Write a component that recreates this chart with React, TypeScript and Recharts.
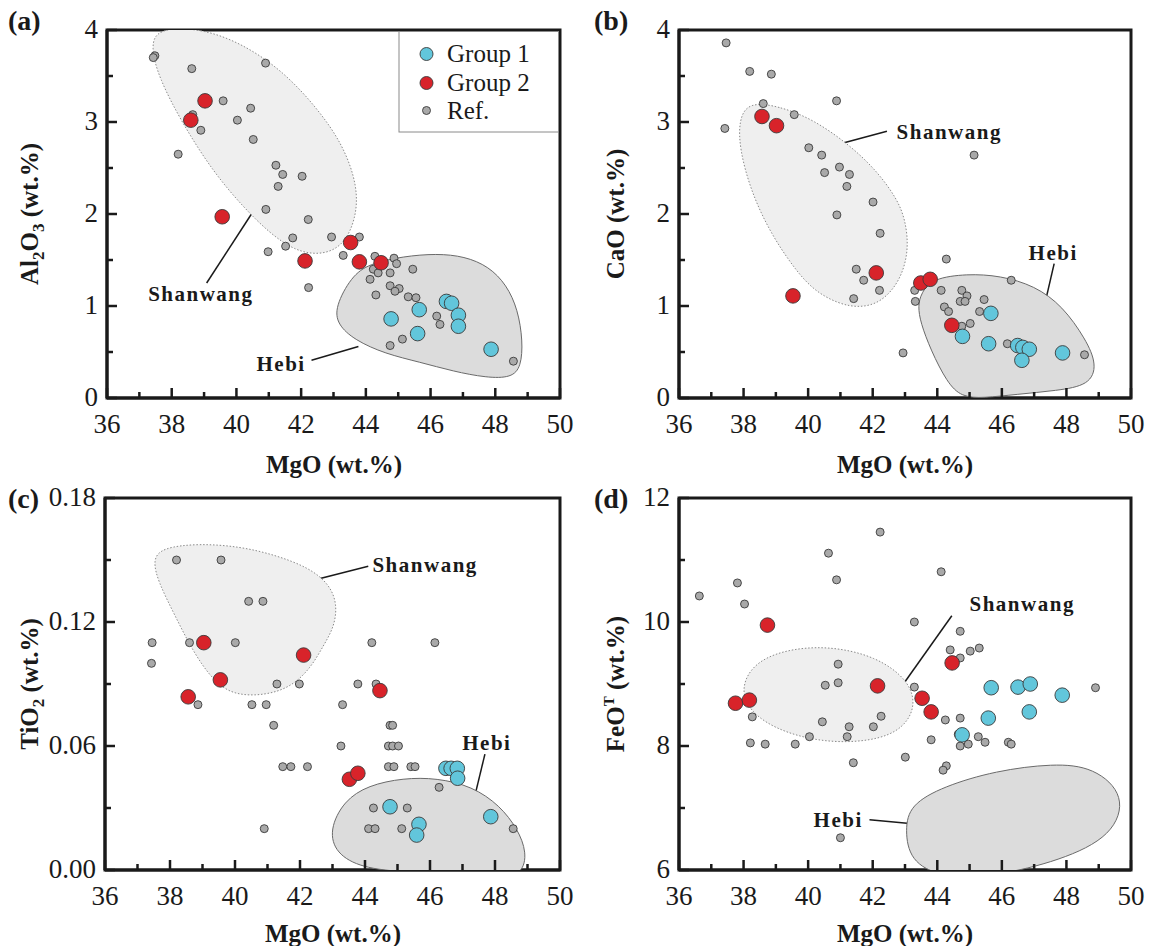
import React from "react";
import {
  ScatterChart,
  Scatter,
  XAxis,
  YAxis,
  ReferenceArea,
  ReferenceLine,
} from "recharts";

type Pair = [number, number];
type Note = { x: number; y: number; text: string };

const SERIF = '"Liberation Serif", "Times New Roman", Times, serif';
const INK = "#1a1a1a";
const CYAN = "#62c6db";
const RED = "#d8232a";
const GREY = "#a9a9a9";

// axes
const xTicks = [36, 37, 38, 39, 40, 41, 42, 43, 44, 45, 46, 47, 48, 49, 50];
const xTickLabels = ["36", "", "38", "", "40", "", "42", "", "44", "", "46", "", "48", "", "50"];
const yTicksAB = [0, 0.5, 1, 1.5, 2, 2.5, 3, 3.5, 4];
const yLabelsAB = ["0", "", "1", "", "2", "", "3", "", "4"];
const yTicksC = [0, 0.03, 0.06, 0.09, 0.12, 0.15, 0.18];
const yLabelsC = ["0.00", "", "0.06", "", "0.12", "", "0.18"];
const yTicksD = [6, 7, 8, 9, 10, 11, 12];
const yLabelsD = ["6", "", "8", "", "10", "", "12"];

// (a) Al2O3 vs MgO
const refA: Pair[] = [
  [37.48, 3.72], [37.43, 3.7], [38.62, 3.58], [40.9, 3.64], [39.59, 3.23], [40.44, 3.15],
  [40.03, 3.02], [38.9, 2.91], [38.65, 3.08], [40.52, 2.81], [38.2, 2.65], [41.22, 2.53],
  [41.43, 2.43], [42.03, 2.41], [41.29, 2.3], [40.91, 2.05], [42.22, 1.94], [40.98, 1.59],
  [41.52, 1.65], [41.74, 1.74], [42.94, 1.75], [42.23, 1.2], [43.8, 1.75], [43.3, 1.55],
  [44.28, 1.54], [44.87, 1.52], [44.95, 1.46], [44.23, 1.4], [44.38, 1.36], [44.75, 1.36],
  [44.13, 1.29], [45.45, 1.4], [44.75, 1.22], [45.03, 1.19], [44.9, 1.16], [45.31, 1.1],
  [45.55, 1.09], [44.31, 1.12], [46.19, 0.89], [46.29, 0.8], [45.13, 0.64], [44.75, 0.57],
  [48.56, 0.4],
];
const g2A: Pair[] = [[38.59, 3.02], [39.03, 3.23], [39.56, 1.97], [42.12, 1.49], [43.53, 1.69], [43.8, 1.48], [44.47, 1.47]];
const g1A: Pair[] = [[44.78, 0.86], [45.65, 0.96], [45.6, 0.7], [46.49, 1.05], [46.65, 1.03], [46.86, 0.9], [46.86, 0.78], [47.87, 0.53]];
const shanwangA: Pair[] = [
  [37.55, 4.02], [38.9, 4.02], [40.2, 3.85], [41.45, 3.55], [42.5, 3.15], [43.3, 2.75],
  [43.75, 2.3], [43.7, 1.95], [43.3, 1.65], [42.6, 1.55], [41.8, 1.6], [41.0, 1.8],
  [40.2, 2.08], [39.3, 2.45], [38.35, 2.97], [37.6, 3.48], [37.35, 3.82],
];
const hebiA: Pair[] = [
  [43.05, 0.99], [43.55, 1.32], [44.1, 1.46], [45.16, 1.54], [46.19, 1.57], [47.05, 1.54],
  [47.8, 1.43], [48.35, 1.23], [48.7, 0.96], [48.85, 0.62], [48.8, 0.34], [48.5, 0.22],
  [47.73, 0.22], [46.7, 0.29], [45.67, 0.39], [44.6, 0.48], [43.65, 0.63], [43.12, 0.8],
];
const notesA: Note[] = [{ x: 38.9, y: 1.13, text: "Shanwang" }, { x: 41.38, y: 0.37, text: "Hebi" }];
const leadersA: [Pair, Pair][] = [[[39.08, 1.25], [40.52, 2.03]], [[42.32, 0.41], [43.77, 0.56]]];

// (b) CaO vs MgO
const refB: Pair[] = [
  [37.46, 3.86], [38.19, 3.55], [38.86, 3.52], [38.61, 3.2], [37.42, 2.93], [39.57, 3.08],
  [40.88, 3.23], [40.02, 2.72], [40.42, 2.64], [40.97, 2.51], [41.28, 2.43], [40.51, 2.45],
  [41.2, 2.3], [42.01, 2.13], [40.89, 1.99], [42.23, 1.79], [41.49, 1.4], [41.72, 1.28],
  [42.21, 1.17], [41.41, 1.08], [42.94, 0.49], [45.14, 2.64], [44.28, 1.51], [43.3, 1.17],
  [43.32, 1.05], [44.12, 1.17], [44.76, 1.17], [44.92, 1.11], [44.71, 1.05], [44.86, 1.05],
  [44.22, 0.99], [44.35, 0.94], [45.45, 1.07], [45.31, 0.94], [45.02, 0.81], [44.76, 0.78],
  [46.29, 1.28], [46.17, 0.59], [48.56, 0.47],
];
const g2B: Pair[] = [[38.57, 3.06], [39.02, 2.96], [39.53, 1.11], [42.11, 1.36], [43.49, 1.25], [43.78, 1.29], [44.45, 0.79]];
const g1B: Pair[] = [[45.66, 0.92], [44.78, 0.67], [45.59, 0.59], [46.49, 0.57], [46.65, 0.55], [46.85, 0.53], [46.62, 0.41], [47.88, 0.49]];
const shanwangB: Pair[] = [
  [38.15, 3.22], [39.14, 3.17], [40.2, 3.02], [41.28, 2.75], [42.1, 2.48], [42.75, 2.17],
  [43.02, 1.93], [43.12, 1.6], [42.85, 1.27], [42.27, 1.04], [41.62, 0.98], [40.95, 1.02],
  [40.1, 1.18], [39.38, 1.5], [38.75, 1.85], [38.22, 2.26], [37.88, 2.7], [37.85, 3.02],
];
const hebiB: Pair[] = [
  [43.5, 1.14], [43.85, 1.3], [44.92, 1.35], [45.95, 1.33], [47.02, 1.22], [47.88, 1.0],
  [48.6, 0.64], [48.95, 0.36], [48.72, 0.14], [47.7, 0.08], [46.46, 0.04], [45.43, 0.0],
  [44.75, 0.01], [44.3, 0.17], [43.8, 0.52], [43.48, 0.82], [43.4, 1.0],
];
const notesB: Note[] = [{ x: 44.37, y: 2.9, text: "Shanwang" }, { x: 47.59, y: 1.58, text: "Hebi" }];
const leadersB: [Pair, Pair][] = [[[42.44, 2.9], [40.97, 2.76]], [[47.62, 1.46], [47.29, 0.96]]];

// (c) TiO2 vs MgO
const refC: Pair[] = [
  [38.2, 0.15], [39.57, 0.15], [40.42, 0.13], [40.86, 0.13], [37.45, 0.11], [38.6, 0.11],
  [40.01, 0.11], [37.43, 0.1], [41.29, 0.09], [41.98, 0.09], [44.21, 0.11], [46.15, 0.11],
  [43.78, 0.09], [44.34, 0.09], [38.86, 0.08], [40.52, 0.08], [40.96, 0.08], [41.19, 0.07],
  [41.47, 0.05], [41.72, 0.05], [42.23, 0.05], [40.9, 0.02], [43.31, 0.08], [43.26, 0.06],
  [44.77, 0.07], [44.85, 0.07], [44.72, 0.06], [44.85, 0.06], [45.03, 0.06], [44.72, 0.05],
  [44.89, 0.05], [45.41, 0.05], [45.54, 0.05], [46.28, 0.04], [44.26, 0.03], [45.3, 0.03],
  [44.11, 0.02], [44.31, 0.02], [45.13, 0.02], [48.56, 0.02],
];
const g2C: Pair[] = [[38.56, 0.0838], [39.04, 0.11], [39.55, 0.092], [42.11, 0.104], [43.52, 0.0439], [43.78, 0.0468], [44.46, 0.0868]];
const g1C: Pair[] = [[46.49, 0.0492], [46.65, 0.0492], [46.84, 0.0492], [46.85, 0.0444], [44.77, 0.0306], [45.66, 0.0221], [45.59, 0.0169], [47.87, 0.0258]];
const shanwangC: Pair[] = [
  [37.75, 0.156], [38.9, 0.158], [40.16, 0.1565], [41.22, 0.1525], [42.25, 0.1465], [42.9, 0.1385],
  [43.15, 0.1285], [43.05, 0.1175], [42.72, 0.1085], [42.32, 0.0975], [41.72, 0.0885], [40.93, 0.0845],
  [39.95, 0.0845], [39.3, 0.092], [38.68, 0.1065], [38.14, 0.1235], [37.65, 0.139], [37.46, 0.15],
];
const hebiC: Pair[] = [
  [42.9, 0.0194], [43.35, 0.0335], [44.1, 0.041], [45.18, 0.0445], [46.21, 0.0445], [47.3, 0.0405],
  [48.15, 0.0312], [48.7, 0.0198], [48.98, 0.0085], [48.85, -0.002], [48.15, -0.003], [46.72, -0.002],
  [45.18, -0.001], [43.9, 0.001], [43.1, 0.008],
];
const notesC: Note[] = [{ x: 45.85, y: 0.1476, text: "Shanwang" }, { x: 47.75, y: 0.0617, text: "Hebi" }];
const leadersC: [Pair, Pair][] = [[[44.1, 0.147], [42.62, 0.141]], [[47.69, 0.0561], [47.35, 0.0339]]];

// (d) FeOT vs MgO
const refD: Pair[] = [
  [36.63, 10.42], [37.81, 10.63], [38.03, 10.29], [38.27, 8.47], [38.21, 8.05], [38.67, 8.03],
  [39.6, 8.03], [40.04, 8.15], [40.44, 8.39], [40.53, 8.98], [40.93, 9.02], [40.93, 9.32],
  [41.21, 8.15], [41.27, 8.31], [41.4, 7.73], [41.0, 6.52], [40.63, 11.11], [40.88, 10.68],
  [42.23, 11.45], [42.26, 8.48], [42.02, 8.31], [43.01, 7.82], [43.29, 10.0], [43.29, 8.95],
  [43.81, 8.1], [44.12, 10.81], [44.25, 8.42], [44.28, 7.68], [44.18, 7.61], [44.4, 9.55],
  [44.71, 9.42], [44.71, 9.85], [45.02, 9.53], [45.3, 9.58], [44.71, 8.45], [44.65, 8.19],
  [44.71, 8.0], [44.96, 8.03], [45.27, 8.15], [45.48, 8.06], [46.2, 8.06], [46.29, 8.03],
  [48.9, 8.94],
];
const g2D: Pair[] = [[37.75, 8.69], [38.18, 8.74], [38.74, 9.95], [42.15, 8.97], [43.53, 8.77], [43.81, 8.55], [44.46, 9.34]];
const g1D: Pair[] = [[45.67, 8.94], [45.58, 8.45], [44.77, 8.18], [46.5, 8.95], [46.88, 9.0], [46.85, 8.55], [47.87, 8.82]];
const shanwangD: Pair[] = [
  [37.85, 8.8], [38.2, 9.3], [39.2, 9.55], [40.6, 9.62], [42.1, 9.45], [43.15, 9.05],
  [43.35, 8.6], [42.8, 8.2], [41.6, 8.05], [40.1, 8.08], [38.6, 8.35],
];
const hebiD: Pair[] = [
  [43.0, 6.65], [43.15, 7.05], [44.2, 7.35], [45.8, 7.6], [47.6, 7.72], [48.85, 7.66],
  [49.85, 7.2], [49.45, 6.55], [47.8, 6.15], [45.8, 5.9], [44.1, 5.88], [43.15, 6.15],
];
const notesD: Note[] = [{ x: 46.63, y: 10.29, text: "Shanwang" }, { x: 40.93, y: 6.81, text: "Hebi" }];
const leadersD: [Pair, Pair][] = [[[44.45, 10.1], [42.95, 9.0]], [[41.9, 6.81], [43.15, 6.75]]];

const toXY = (pts: Pair[]) => pts.map(([x, y]) => ({ x, y }));
const idxOf = (ticks: number[], v: number) => ticks.findIndex((t) => Math.abs(t - v) < 1e-6);

function XTick(props: any) {
  const { x, y, payload } = props;
  const i = idxOf(xTicks, payload.value);
  const major = i % 2 === 0;
  return (
    <g>
      <line x1={x} x2={x} y1={y} y2={y - (major ? 10 : 6)} stroke={INK} strokeWidth={2.5} />
      {major && (
        <text x={x} y={y + 35} textAnchor="middle" fontFamily={SERIF} fontSize={27} fill={INK}>
          {xTickLabels[i]}
        </text>
      )}
    </g>
  );
}

const makeYTick = (ticks: number[], labels: string[]) => (props: any) => {
  const { x, y, payload } = props;
  const i = idxOf(ticks, payload.value);
  const major = i % 2 === 0;
  return (
    <g>
      <line x1={x} x2={x + (major ? 10 : 6)} y1={y} y2={y} stroke={INK} strokeWidth={2.5} />
      {major && (
        <text x={x - 9} y={y} dy="0.3em" textAnchor="end" fontFamily={SERIF} fontSize={27} fill={INK}>
          {labels[i]}
        </text>
      )}
    </g>
  );
};

const noMark = () => <g />;
const dot = (r: number, fill: string) => (p: any) =>
  <circle cx={p.cx} cy={p.cy} r={r} fill={fill} stroke="#3a3a3a" strokeWidth={0.9} />;
const noteMark = (p: any) => (
  <text x={p.cx} y={p.cy} dy="0.35em" textAnchor="middle" fontFamily={SERIF} fontWeight="bold"
    fontSize={21} letterSpacing={1.5} fill={INK}>
    {p.payload.text}
  </text>
);

interface PanelProps {
  left: number;
  top: number;
  width: number;
  height: number;
  margin: { top: number; right: number; bottom: number; left: number };
  yDomain: [number, number];
  yTicks: number[];
  yLabels: string[];
  refPts: Pair[];
  g1: Pair[];
  g2: Pair[];
  shanwang: Pair[];
  hebi: Pair[];
  notes: Note[];
  leaders: [Pair, Pair][];
}

function Panel(p: PanelProps) {
  return (
    <div style={{ position: "absolute", left: p.left, top: p.top }}>
      <ScatterChart width={p.width} height={p.height} margin={p.margin}>
        <XAxis type="number" dataKey="x" domain={[36, 50]} ticks={xTicks} interval={0}
          allowDataOverflow height={50} tickSize={0} tickMargin={0} tickLine={false}
          axisLine={{ stroke: INK, strokeWidth: 3 }} tick={XTick} />
        <YAxis type="number" dataKey="y" domain={p.yDomain} ticks={p.yTicks} interval={0}
          allowDataOverflow width={60} tickSize={0} tickMargin={0} tickLine={false}
          axisLine={{ stroke: INK, strokeWidth: 3 }} tick={makeYTick(p.yTicks, p.yLabels)} />
        <Scatter data={toXY(p.shanwang)} shape={noMark} isAnimationActive={false} legendType="none"
          line={{ stroke: "#8a8a8a", strokeWidth: 1, strokeDasharray: "1.5 1.8", fill: "#efefef" }}
          lineJointType="basisClosed" />
        <Scatter data={toXY(p.hebi)} shape={noMark} isAnimationActive={false} legendType="none"
          line={{ stroke: "#6a6a6a", strokeWidth: 1, fill: "#dcdcdc" }}
          lineJointType="basisClosed" />
        {p.leaders.map((s, i) => (
          <ReferenceLine key={i} segment={[{ x: s[0][0], y: s[0][1] }, { x: s[1][0], y: s[1][1] }]}
            stroke={INK} strokeWidth={1.5} ifOverflow="visible" />
        ))}
        <Scatter data={toXY(p.refPts)} shape={dot(4, GREY)} isAnimationActive={false} />
        <Scatter data={toXY(p.g2)} shape={dot(7.3, RED)} isAnimationActive={false} />
        <Scatter data={toXY(p.g1)} shape={dot(7.3, CYAN)} isAnimationActive={false} />
        <Scatter data={p.notes} shape={noteMark} isAnimationActive={false} legendType="none" />
        <ReferenceArea x1={36} x2={50} y1={p.yDomain[0]} y2={p.yDomain[1]} fill="none"
          stroke={INK} strokeWidth={3} ifOverflow="visible" />
      </ScatterChart>
    </div>
  );
}

const titleStyle = { fontFamily: SERIF, fontWeight: "bold" as const, fill: INK };

export default function App() {
  return (
    <div style={{ position: "absolute", left: 0, top: 0, width: 1153, height: 946, background: "#fff", overflow: "hidden" }}>
      <Panel left={0} top={0} width={580} height={480} margin={{ top: 30, right: 20, bottom: 32, left: 47 }}
        yDomain={[0, 4]} yTicks={yTicksAB} yLabels={yLabelsAB} refPts={refA} g1={g1A} g2={g2A}
        shanwang={shanwangA} hebi={hebiA} notes={notesA} leaders={leadersA} />
      <Panel left={580} top={0} width={573} height={480} margin={{ top: 30, right: 22, bottom: 32, left: 39 }}
        yDomain={[0, 4]} yTicks={yTicksAB} yLabels={yLabelsAB} refPts={refB} g1={g1B} g2={g2B}
        shanwang={shanwangB} hebi={hebiB} notes={notesB} leaders={leadersB} />
      <Panel left={0} top={480} width={580} height={466} margin={{ top: 18, right: 20, bottom: 26, left: 45 }}
        yDomain={[0, 0.18]} yTicks={yTicksC} yLabels={yLabelsC} refPts={refC} g1={g1C} g2={g2C}
        shanwang={shanwangC} hebi={hebiC} notes={notesC} leaders={leadersC} />
      <Panel left={580} top={480} width={573} height={466} margin={{ top: 18, right: 22, bottom: 26, left: 39 }}
        yDomain={[6, 12]} yTicks={yTicksD} yLabels={yLabelsD} refPts={refD} g1={g1D} g2={g2D}
        shanwang={shanwangD} hebi={hebiD} notes={notesD} leaders={leadersD} />

      <svg width={1153} height={946} style={{ position: "absolute", left: 0, top: 0, pointerEvents: "none" }}>
        {/* panel letters */}
        <text x={8} y={30} fontSize={28} {...titleStyle}>(a)</text>
        <text x={594} y={30} fontSize={28} {...titleStyle}>(b)</text>
        <text x={8} y={508} fontSize={28} {...titleStyle}>(c)</text>
        <text x={594} y={508} fontSize={28} {...titleStyle}>(d)</text>

        {/* x titles */}
        <text x={334} y={473} fontSize={25} textAnchor="middle" {...titleStyle}>MgO (wt.%)</text>
        <text x={905} y={473} fontSize={25} textAnchor="middle" {...titleStyle}>MgO (wt.%)</text>
        <text x={333} y={942} fontSize={25} textAnchor="middle" {...titleStyle}>MgO (wt.%)</text>
        <text x={905} y={942} fontSize={25} textAnchor="middle" {...titleStyle}>MgO (wt.%)</text>

        {/* y titles */}
        <text transform="translate(38,214) rotate(-90)" fontSize={25} textAnchor="middle" {...titleStyle}>
          Al<tspan dy={6} fontSize={17}>2</tspan><tspan dy={-6}>O</tspan><tspan dy={6} fontSize={17}>3</tspan>
          <tspan dy={-6}>{" (wt.%)"}</tspan>
        </text>
        <text transform="translate(624,214) rotate(-90)" fontSize={25} textAnchor="middle" {...titleStyle}>
          CaO (wt.%)
        </text>
        <text transform="translate(38,684) rotate(-90)" fontSize={25} textAnchor="middle" {...titleStyle}>
          TiO<tspan dy={6} fontSize={17}>2</tspan><tspan dy={-6}>{" (wt.%)"}</tspan>
        </text>
        <text transform="translate(624,684) rotate(-90)" fontSize={25} textAnchor="middle" {...titleStyle}>
          FeO<tspan dy={-10} fontSize={15}>T</tspan><tspan dy={10}>{" (wt.%)"}</tspan>
        </text>

        {/* legend, panel (a) */}
        <rect x={399} y={31.5} width={159.5} height={100.5} fill="none" stroke="#8a8a8a" strokeWidth={1} />
        <circle cx={426.5} cy={54} r={6.5} fill={CYAN} stroke="#3a3a3a" strokeWidth={0.9} />
        <circle cx={426.5} cy={83} r={6.5} fill={RED} stroke="#3a3a3a" strokeWidth={0.9} />
        <circle cx={426.5} cy={110.5} r={4} fill={GREY} stroke="#3a3a3a" strokeWidth={0.9} />
        <text x={447} y={62} fontFamily={SERIF} fontSize={25} fill={INK}>Group 1</text>
        <text x={447} y={91} fontFamily={SERIF} fontSize={25} fill={INK}>Group 2</text>
        <text x={447} y={119} fontFamily={SERIF} fontSize={25} fill={INK}>Ref.</text>
      </svg>
    </div>
  );
}
